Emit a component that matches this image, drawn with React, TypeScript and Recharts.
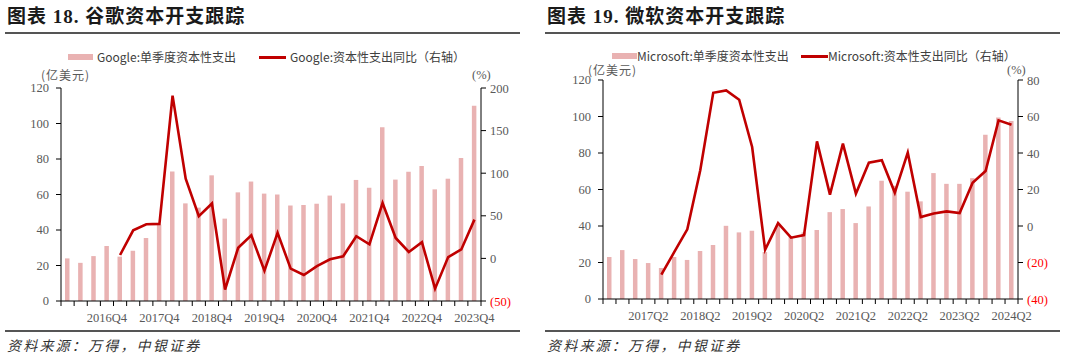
import React from "react";
import { ComposedChart, Bar, Line, XAxis, YAxis } from "recharts";

// 谷歌：2016Q1 - 2023Q4
const googleQuarters = [
  "2016Q1", "2016Q2", "2016Q3", "2016Q4", "2017Q1", "2017Q2", "2017Q3", "2017Q4",
  "2018Q1", "2018Q2", "2018Q3", "2018Q4", "2019Q1", "2019Q2", "2019Q3", "2019Q4",
  "2020Q1", "2020Q2", "2020Q3", "2020Q4", "2021Q1", "2021Q2", "2021Q3", "2021Q4",
  "2022Q1", "2022Q2", "2022Q3", "2022Q4", "2023Q1", "2023Q2", "2023Q3", "2023Q4",
];
const googleCapex = [
  24, 21.5, 25.3, 31, 25, 28.3, 35.5, 43, 73, 55, 52.6, 70.8, 46.4, 61.2, 67.3, 60.5,
  60, 53.8, 54.1, 54.8, 59.4, 55, 68.2, 63.8, 97.9, 68.4, 72.8, 76, 62.9, 68.9, 80.6, 110,
];
const googleYoy = [
  null, null, null, null, 4, 33, 40, 40.5, 191, 93.5, 49.5, 64.5, -36.5, 12.5, 27, -14.5,
  30, -12, -19.5, -9, -1, 2.5, 26, 16.5, 65, 24, 7.5, 19, -35.5, 1.5, 10.5, 45.5,
];
const googleTickLabels = ["2016Q4", "2017Q4", "2018Q4", "2019Q4", "2020Q4", "2021Q4", "2022Q4", "2023Q4"];

// 微软：2016Q3 - 2024Q2
const msftQuarters = [
  "2016Q3", "2016Q4", "2017Q1", "2017Q2", "2017Q3", "2017Q4", "2018Q1", "2018Q2",
  "2018Q3", "2018Q4", "2019Q1", "2019Q2", "2019Q3", "2019Q4", "2020Q1", "2020Q2",
  "2020Q3", "2020Q4", "2021Q1", "2021Q2", "2021Q3", "2021Q4", "2022Q1", "2022Q2",
  "2022Q3", "2022Q4", "2023Q1", "2023Q2", "2023Q3", "2023Q4", "2024Q1", "2024Q2",
];
const msftCapex = [
  23, 26.8, 21.9, 19.7, 17, 23, 21.4, 26.3, 29.6, 40.1, 36.5, 37.4, 25.7, 40, 34, 36.5,
  37.8, 47.6, 49.3, 41.6, 50.7, 64.8, 62, 58.8, 53.5, 69, 63.1, 63.1, 66.2, 90, 99.5, 97.6,
];
const msftYoy = [
  null, null, null, null, -26.7, -14.2, -1.8, 30.5, 73, 74.3, 69.2, 43.3, -13, 1.6, -6.4, -5,
  46.4, 17.2, 45.1, 17.7, 34.7, 36, 18.3, 40.2, 4.9, 6.8, 8, 7.1, 23.7, 30.1, 57.9, 55.5,
];
const msftTickLabels = ["2017Q2", "2018Q2", "2019Q2", "2020Q2", "2021Q2", "2022Q2", "2023Q2", "2024Q2"];

const BAR_COLOR = "#e9b2b2";
const LINE_COLOR = "#c00000";
const TICK_COLOR = "#595959";
const SERIF = "'Liberation Serif', 'Times New Roman', serif";
const CJK = "'Noto Sans CJK SC', sans-serif";

function makeXTick(labels: string[], count: number, band: number) {
  return function XTick(props: any) {
    const { x, y, payload, index } = props;
    const left = x - band / 2;
    return (
      <g>
        <line x1={left} y1={y} x2={left} y2={y + 5} stroke="#000" />
        {index === count - 1 && <line x1={x + band / 2} y1={y} x2={x + band / 2} y2={y + 5} stroke="#000" />}
        {labels.includes(payload.value) && (
          <text x={x} y={y + 21} textAnchor="middle" fill={TICK_COLOR} fontSize={12.5} fontFamily={SERIF}>
            {payload.value}
          </text>
        )}
      </g>
    );
  };
}

function RightTick(props: any) {
  const { x, y, payload } = props;
  const v = payload.value;
  const neg = v < 0;
  return (
    <text x={x} y={y} dy={4.5} textAnchor="start" fill={neg ? "#ff0000" : TICK_COLOR} fontSize={12.5} fontFamily={SERIF}>
      {neg ? `(${-v})` : v}
    </text>
  );
}

type PanelProps = {
  offsetX: number;
  title: string;
  company: string;
  quarters: string[];
  capex: number[];
  yoy: (number | null)[];
  tickLabels: string[];
  rightDomain: [number, number];
  rightTicks: number[];
  plotTop: number;
  plotBottom: number;
  leftWidth: number;
  rightWidth: number;
  legend: { sw1: number; tx1: number; sw2: number; tx2: number; y: number };
  units: { cnX: number; pctX: number; y: number };
};

function Panel(p: PanelProps) {
  const data = p.quarters.map((q, i) => ({ q, capex: p.capex[i], yoy: p.yoy[i] }));
  const W = 540;
  const H = 330;
  const plotW = W - p.leftWidth - p.rightWidth;
  const band = plotW / p.quarters.length;
  const XTick = makeXTick(p.tickLabels, p.quarters.length, band);

  return (
    <div style={{ position: "absolute", left: p.offsetX, top: 0, width: W, height: 356 }}>
      <div
        style={{
          position: "absolute", left: 7, top: 6, fontSize: 19, lineHeight: "22px", fontWeight: 700,
          fontFamily: `${SERIF.split(",")[0]}, ${CJK}`, letterSpacing: 1, color: "#1a1a1a", whiteSpace: "nowrap",
        }}
      >
        {p.title}
      </div>
      <div style={{ position: "absolute", left: 5, top: 32, width: 515, height: 2, background: "#555" }} />

      {/* legend */}
      <div style={{ position: "absolute", left: p.legend.sw1, top: p.legend.y - 3, width: 25, height: 6, background: BAR_COLOR }} />
      <div style={{ position: "absolute", left: p.legend.tx1, top: p.legend.y - 8, fontSize: 12, lineHeight: "16px", fontFamily: CJK, color: "#404040", whiteSpace: "nowrap" }}>
        {p.company}:单季度资本性支出
      </div>
      <div style={{ position: "absolute", left: p.legend.sw2, top: p.legend.y - 1.5, width: 27, height: 3, background: LINE_COLOR }} />
      <div style={{ position: "absolute", left: p.legend.tx2, top: p.legend.y - 8, fontSize: 12, lineHeight: "16px", fontFamily: CJK, color: "#404040", whiteSpace: "nowrap" }}>
        {p.company}:资本性支出同比（右轴）
      </div>

      {/* units */}
      <div style={{ position: "absolute", left: p.units.cnX, top: p.units.y - 8, fontSize: 12, lineHeight: "16px", fontFamily: CJK, color: TICK_COLOR, letterSpacing: 1, whiteSpace: "nowrap" }}>
        (亿美元)
      </div>
      <div style={{ position: "absolute", left: p.units.pctX, top: p.units.y - 8, fontSize: 12.5, lineHeight: "16px", fontFamily: SERIF, color: TICK_COLOR, whiteSpace: "nowrap" }}>
        (%)
      </div>

      <div style={{ position: "absolute", left: 0, top: 0 }}>
        <ComposedChart
          width={W}
          height={H}
          data={data}
          margin={{ top: p.plotTop, right: 0, bottom: H - p.plotBottom - 20, left: 0 }}
        >
          <XAxis
            dataKey="q"
            xAxisId="x"
            height={20}
            interval={0}
            tickSize={0}
            tickMargin={0}
            tickLine={false}
            axisLine={{ stroke: "#000" }}
            tick={<XTick />}
          />
          <YAxis
            yAxisId="left"
            width={p.leftWidth}
            domain={[0, 120]}
            ticks={[0, 20, 40, 60, 80, 100, 120]}
            interval={0}
            tickSize={5}
            tickMargin={7}
            axisLine={{ stroke: "#000" }}
            tickLine={{ stroke: "#000" }}
            tick={{ fill: TICK_COLOR, fontSize: 12.5, fontFamily: SERIF }}
          />
          <YAxis
            yAxisId="right"
            orientation="right"
            width={p.rightWidth}
            domain={p.rightDomain}
            ticks={p.rightTicks}
            interval={0}
            tickSize={5}
            tickMargin={4}
            axisLine={{ stroke: "#000" }}
            tickLine={{ stroke: "#000" }}
            tick={<RightTick />}
          />
          <Bar xAxisId="x" yAxisId="left" dataKey="capex" fill={BAR_COLOR} barSize={4.5} isAnimationActive={false} />
          <Line
            xAxisId="x"
            yAxisId="right"
            dataKey="yoy"
            stroke={LINE_COLOR}
            strokeWidth={2.6}
            dot={false}
            activeDot={false}
            isAnimationActive={false}
          />
        </ComposedChart>
      </div>

      <div style={{ position: "absolute", left: 5, top: 330, width: 515, height: 2, background: "#555" }} />
      <div
        style={{
          position: "absolute", left: 7, top: 336, fontSize: 14, lineHeight: "18px", fontStyle: "italic",
          fontFamily: CJK, letterSpacing: 2.2, color: "#333", whiteSpace: "nowrap",
        }}
      >
        资料来源：万得，中银证券
      </div>
    </div>
  );
}

export default function App() {
  return (
    <div style={{ position: "absolute", left: 0, top: 0, width: 1080, height: 356, background: "#fff", overflow: "hidden" }}>
      <Panel
        offsetX={0}
        title="图表 18. 谷歌资本开支跟踪"
        company="Google"
        quarters={googleQuarters}
        capex={googleCapex}
        yoy={googleYoy}
        tickLabels={googleTickLabels}
        rightDomain={[-50, 200]}
        rightTicks={[-50, 0, 50, 100, 150, 200]}
        plotTop={88}
        plotBottom={301}
        leftWidth={61}
        rightWidth={59}
        legend={{ sw1: 68, tx1: 97, sw2: 259, tx2: 290, y: 57 }}
        units={{ cnX: 41, pctX: 472, y: 75 }}
      />
      <Panel
        offsetX={540}
        title="图表 19. 微软资本开支跟踪"
        company="Microsoft"
        quarters={msftQuarters}
        capex={msftCapex}
        yoy={msftYoy}
        tickLabels={msftTickLabels}
        rightDomain={[-40, 80]}
        rightTicks={[-40, -20, 0, 20, 40, 60, 80]}
        plotTop={80}
        plotBottom={299}
        leftWidth={63}
        rightWidth={62}
        legend={{ sw1: 72, tx1: 97, sw2: 261, tx2: 288, y: 56 }}
        units={{ cnX: 48, pctX: 467, y: 70 }}
      />
    </div>
  );
}
